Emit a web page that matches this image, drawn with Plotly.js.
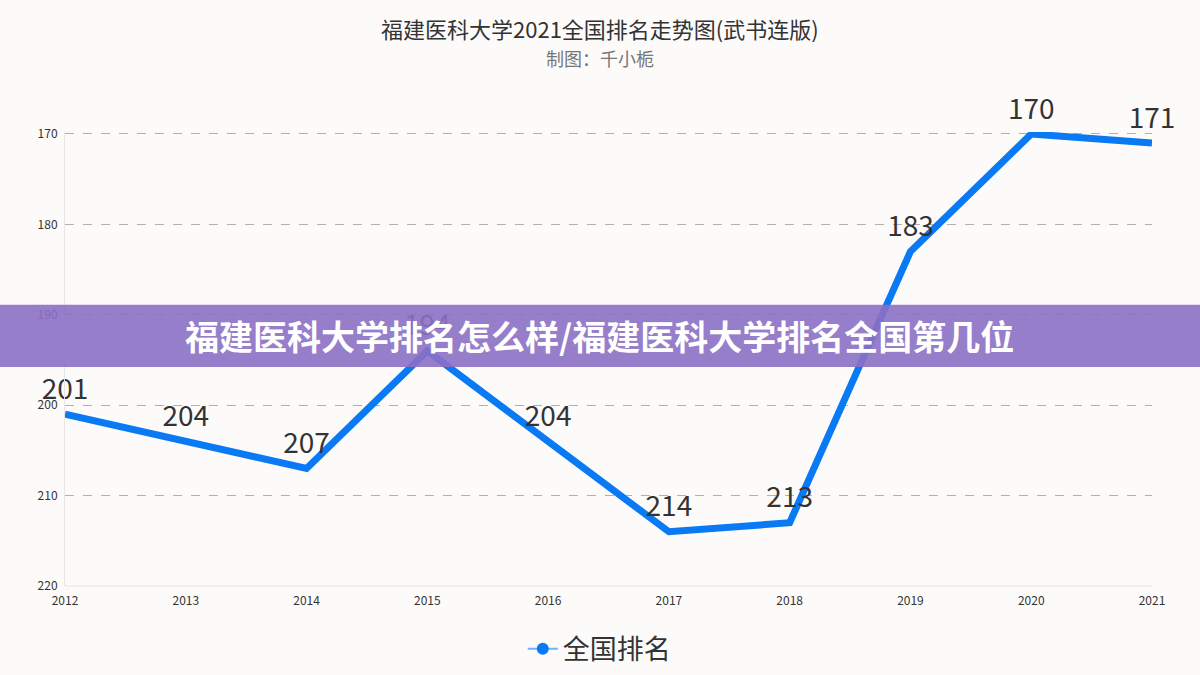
<!DOCTYPE html>
<html>
<head>
<meta charset="utf-8">
<script src="https://cdn.plot.ly/plotly-3.0.1.min.js"></script>
<style>html,body{margin:0;padding:0;background:#fcfbfa;}#chart{width:1200px;height:675px;}</style>
</head>
<body>
<div id="chart"></div>
<script>
const years = ['2012','2013','2014','2015','2016','2017','2018','2019','2020','2021'];
const ranks = [201, 204, 207, 194, 204, 214, 213, 183, 170, 171];
const seriesName = '全国排名';
const titleText = '福建医科大学2021全国排名走势图(武书连版)';
const subtitleText = '制图：千小栀';
const bannerText = '福建医科大学排名怎么样/福建医科大学排名全国第几位';
const yTicks = [170, 180, 190, 200, 210, 220];

const FONT = '"Noto Sans CJK SC", "Noto Sans", sans-serif';
const BLUE = '#0a7af4';

const traces = [
  {
    x: years, y: ranks, type: 'scatter', mode: 'lines+markers+text',
    text: ranks.map(String), textposition: 'top center',
    textfont: {family: FONT, size: 28, color: '#333'},
    line: {color: BLUE, width: 7},
    marker: {size: 12, color: 'rgba(0,0,0,0)'},
    showlegend: false, cliponaxis: false, hoverinfo: 'x+y'
  },
  {
    x: [null], y: [null], type: 'scatter', mode: 'lines+markers',
    name: seriesName,
    line: {color: '#6fb2f7', width: 2},
    marker: {color: BLUE, size: 12},
    showlegend: true
  }
];

const layout = {
  width: 1200, height: 675,
  paper_bgcolor: '#fcfbfa', plot_bgcolor: '#fcfbfa',
  margin: {l: 65, r: 48, t: 132, b: 89, autoexpand: false},
  font: {family: FONT, color: '#333'},
  showlegend: true,
  legend: {orientation: 'h', x: 0.4915, xanchor: 'center', y: -0.139, yanchor: 'middle',
           font: {family: FONT, size: 27, color: '#333'}, bgcolor: 'rgba(0,0,0,0)'},
  xaxis: {
    type: 'category', range: [0, 9], showgrid: false, zeroline: false,
    showline: false, ticks: '', tickfont: {family: FONT, size: 12, color: '#333'},
    ticklabelstandoff: 6, automargin: false
  },
  yaxis: {
    range: [220, 169.78], tickvals: yTicks, showgrid: true, gridcolor: '#b0b0b0',
    griddash: 'dash', gridwidth: 1, zeroline: false, showline: true, linecolor: '#e6e6e6',
    ticks: '', tickfont: {family: FONT, size: 12, color: '#333'}, ticklabelstandoff: 4,
    automargin: false
  },
  shapes: [
    {type: 'line', xref: 'paper', yref: 'paper', x0: 0, x1: 1, y0: 0, y1: 0,
     line: {color: '#e6e6e6', width: 1}, layer: 'below'},
    {type: 'rect', xref: 'paper', yref: 'paper', x0: -0.07, x1: 1.06, y0: 0.4823, y1: 0.6195,
     fillcolor: 'rgba(140,112,196,0.9)', line: {width: 0}, layer: 'above'}
  ],
  annotations: [
    {text: titleText, xref: 'paper', yref: 'paper', x: 0.492, y: 1.228, xanchor: 'center', yanchor: 'middle',
     showarrow: false, font: {family: FONT, size: 22, color: '#333'}},
    {text: subtitleText, xref: 'paper', yref: 'paper', x: 0.492, y: 1.163, xanchor: 'center', yanchor: 'middle',
     showarrow: false, font: {family: FONT, size: 18, color: '#777'}},
    {text: '<b>' + bannerText + '</b>', xref: 'paper', yref: 'paper', x: 0.492, y: 0.551, xanchor: 'center', yanchor: 'middle',
     showarrow: false, font: {family: FONT, size: 34, color: '#ffffff'}}
  ]
};

Plotly.newPlot('chart', traces, layout, {displayModeBar: false, staticPlot: true});
</script>
</body>
</html>
